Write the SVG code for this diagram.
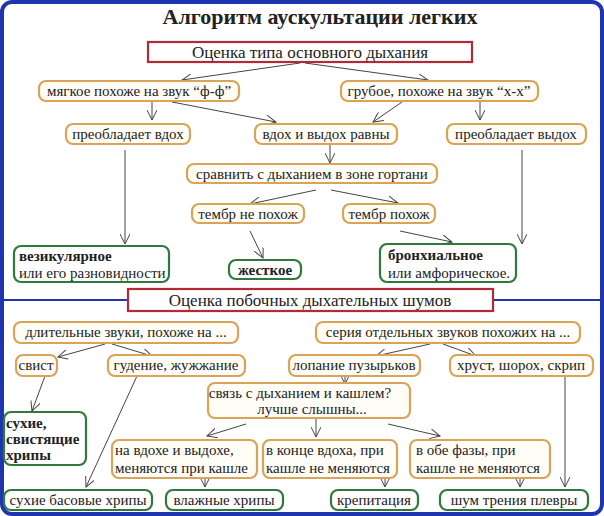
<svg xmlns="http://www.w3.org/2000/svg" width="604" height="516" viewBox="0 0 604 516" font-family="'Liberation Serif','DejaVu Serif',serif">
<defs>
<marker id="ah" markerWidth="12" markerHeight="10" refX="10" refY="5" orient="auto" markerUnits="userSpaceOnUse">
<polyline points="0,0 10,5 0,10" fill="none" stroke="#444" stroke-width="1"/>
</marker>
<style>
text{font-family:'Liberation Serif','DejaVu Serif',serif;fill:#222;font-size:15px}
.t{font-size:22px;font-weight:bold}
.o{fill:#fffdf6;stroke:#d9a358;stroke-width:2.2}
.g{fill:#fff;stroke:#2f7a3a;stroke-width:2.2}
.r{fill:#fff;stroke:#b22a35;stroke-width:2.2}
.b{font-weight:bold}
.c{stroke:#444;stroke-width:1;fill:none;marker-end:url(#ah)}
.m{text-anchor:middle}
</style>
</defs>
<rect x="0" y="0" width="604" height="516" fill="#fff"/>
<rect x="2" y="2" width="600" height="512" rx="10" fill="none" stroke="#1f35b0" stroke-width="4"/>
<line x1="2" y1="300" x2="602" y2="300" stroke="#1f35b0" stroke-width="2"/>
<text class="t m" x="320" y="24">Алгоритм аускультации легких</text>

<g id="connectors">
<line class="c" x1="300" y1="63" x2="182" y2="80"/>
<line class="c" x1="305" y1="63" x2="428" y2="80"/>
<line class="c" x1="152" y1="102" x2="152" y2="120"/>
<line class="c" x1="172" y1="102" x2="276" y2="122"/>
<line class="c" x1="402" y1="102" x2="373" y2="122"/>
<line class="c" x1="480" y1="102" x2="480" y2="120"/>
<line class="c" x1="330" y1="145" x2="330" y2="163"/>
<line class="c" x1="316" y1="190" x2="250" y2="204"/>
<line class="c" x1="331" y1="190" x2="398" y2="203"/>
<line class="c" x1="125" y1="150" x2="125" y2="244"/>
<line class="c" x1="522" y1="150" x2="522" y2="244"/>
<line class="c" x1="250" y1="231" x2="263" y2="258"/>
<line class="c" x1="400" y1="231" x2="452" y2="242"/>
<line class="c" x1="105" y1="344" x2="58" y2="357"/>
<line class="c" x1="112" y1="344" x2="152" y2="356"/>
<line class="c" x1="430" y1="344" x2="376" y2="356"/>
<line class="c" x1="443" y1="344" x2="476" y2="356"/>
<line class="c" x1="45" y1="376" x2="32" y2="411"/>
<line class="c" x1="137" y1="376" x2="86" y2="487"/>
<line class="c" x1="345" y1="374" x2="345" y2="384"/>
<line class="c" x1="565" y1="376" x2="565" y2="487"/>
<line class="c" x1="246" y1="424" x2="207" y2="436"/>
<line class="c" x1="316" y1="419" x2="316" y2="437"/>
<line class="c" x1="388" y1="424" x2="440" y2="436"/>
<line class="c" x1="205" y1="478" x2="205" y2="487"/>
<line class="c" x1="385" y1="478" x2="385" y2="487"/>
<line class="c" x1="520" y1="478" x2="520" y2="487"/>
</g>

<g id="n1"><rect class="r" x="148" y="42" width="324" height="20"/><text class="m" x="310" y="58" style="font-size:17px">Оценка типа основного дыхания</text></g>
<g id="n2"><rect class="o" x="39" y="81" width="200" height="20" rx="7"/><text class="m" x="139" y="96">мягкое похоже на звук “ф-ф”</text></g>
<g id="n3"><rect class="o" x="341" y="81" width="197" height="20" rx="7"/><text class="m" x="439" y="96">грубое, похоже на звук “х-х”</text></g>
<g id="n4"><rect class="o" x="66" y="124" width="124" height="20" rx="7"/><text class="m" x="128" y="139">преобладает вдох</text></g>
<g id="n5"><rect class="o" x="255" y="124" width="142" height="20" rx="7"/><text class="m" x="326" y="139">вдох и выдох равны</text></g>
<g id="n6"><rect class="o" x="447" y="124" width="139" height="20" rx="7"/><text class="m" x="516" y="139">преобладает  выдох</text></g>
<g id="n7"><rect class="o" x="187" y="164" width="250" height="19" rx="7"/><text class="m" x="312" y="179">сравнить с дыханием в зоне гортани</text></g>
<g id="n8"><rect class="o" x="192" y="204" width="112" height="19" rx="7"/><text class="m" x="248" y="219">тембр не похож</text></g>
<g id="n9"><rect class="o" x="343" y="204" width="92" height="19" rx="7"/><text class="m" x="389" y="219">тембр похож</text></g>
<g id="n10"><rect class="g" x="14" y="246" width="155" height="36" rx="7"/><text class="b" x="19" y="261">везикулярное</text><text x="19" y="278">или его разновидности</text></g>
<g id="n11"><rect class="g" x="229" y="260" width="72" height="19" rx="7"/><text class="b m" x="265" y="275">жесткое</text></g>
<g id="n12"><rect class="g" x="380" y="244" width="136" height="38" rx="7"/><text class="b" x="388" y="260">бронхиальное</text><text x="388" y="278">или амфорическое.</text></g>

<g id="n13"><rect class="r" x="128" y="289" width="365" height="22"/><text class="m" x="310" y="306" style="font-size:17px">Оценка побочных дыхательных шумов</text></g>
<g id="n14"><rect class="o" x="14" y="322" width="224" height="21" rx="7"/><text class="m" x="126" y="337">длительные звуки, похоже на ...</text></g>
<g id="n15"><rect class="o" x="316" y="322" width="264" height="21" rx="7"/><text class="m" x="448" y="337">серия отдельных звуков похожих на ...</text></g>
<g id="n16"><rect class="o" x="16" y="355" width="41" height="21" rx="7"/><text class="m" x="36" y="370">свист</text></g>
<g id="n17"><rect class="o" x="108" y="355" width="137" height="21" rx="7"/><text class="m" x="176" y="370">гудение, жужжание</text></g>
<g id="n18"><rect class="o" x="289" y="355" width="131" height="21" rx="7"/><text class="m" x="354" y="370">лопание пузырьков</text></g>
<g id="n19"><rect class="o" x="450" y="355" width="143" height="21" rx="7"/><text class="m" x="521" y="370">хруст, шорох,  скрип</text></g>
<g id="n20"><rect class="o" x="208" y="383" width="202" height="35" rx="7"/><text class="m" x="300" y="398">связь с дыханием и кашлем?</text><text class="m" x="312" y="414">лучше слышны...</text></g>
<g id="n21"><rect class="g" x="4" y="412" width="82" height="53" rx="7"/><text class="b" x="6" y="428">сухие,</text><text class="b" x="6" y="444">свистящие</text><text class="b" x="6" y="460">хрипы</text></g>
<g id="n22"><rect class="o" x="112" y="440" width="145" height="38" rx="7"/><text x="115" y="455">на вдохе и выдохе,</text><text x="115" y="473">меняются при кашле</text></g>
<g id="n23"><rect class="o" x="263" y="440" width="134" height="38" rx="7"/><text x="266" y="455">в конце вдоха, при</text><text x="266" y="473">кашле не меняются</text></g>
<g id="n24"><rect class="o" x="410" y="440" width="140" height="38" rx="7"/><text x="416" y="455">в обе фазы, при</text><text x="416" y="473">кашле не меняются</text></g>
<g id="n25"><rect class="g" x="4" y="490" width="148" height="20" rx="7"/><text class="m" x="78" y="505">сухие басовые хрипы</text></g>
<g id="n26"><rect class="g" x="166" y="490" width="117" height="20" rx="7"/><text class="m" x="224" y="505">влажные хрипы</text></g>
<g id="n27"><rect class="g" x="331" y="490" width="87" height="20" rx="7"/><text class="m" x="374" y="505">крепитация</text></g>
<g id="n28"><rect class="g" x="440" y="490" width="148" height="20" rx="7"/><text class="m" x="514" y="505">шум трения плевры</text></g>
</svg>
